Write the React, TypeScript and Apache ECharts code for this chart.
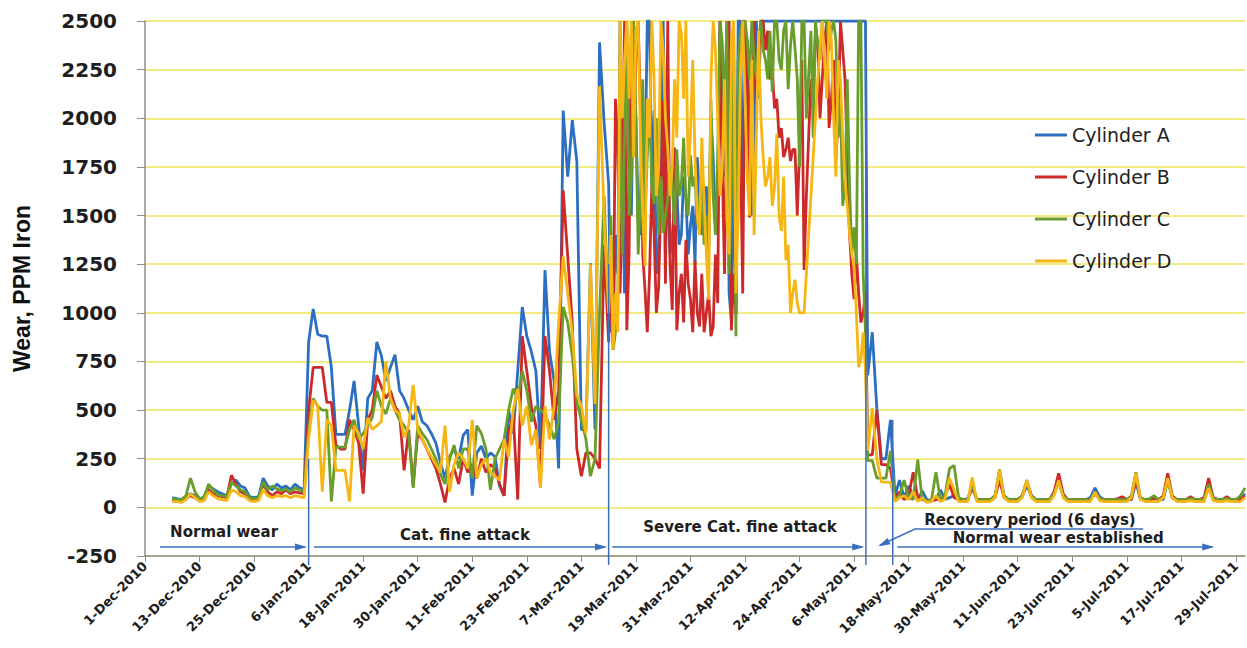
import React, { useEffect, useRef } from "react";
import * as echarts from "echarts";

// day 0 = 1-Dec-2010; first reading on day 6 (7-Dec-2010), one value per day
const START_DAY = 6;
// extra mid-day readings during the severe attack, from day 102.5
const EXTRA_START_DAY = 102.5;

const cylinderNames = ["Cylinder A", "Cylinder B", "Cylinder C", "Cylinder D"];
const cylinderColors = ["#2c6fc2", "#cc2a2a", "#6a9e2c", "#f6b714"];

const cylA = [
  50, 45, 40, 55, 70, 60, 40, 55, 110, 95, 80, 70, 60, 120, 140, 110, 100, 55, 50, 55,
  150, 110, 90, 120, 100, 110, 90, 120, 100, 90,
  850, 1020, 890, 880, 880, 720, 375, 375, 375, 500, 650, 420, 190, 560, 600, 850, 780, 650, 720, 785,
  600, 560, 500, 450, 520, 440, 420, 380, 330, 230, 150, 260, 300, 250, 370,
  400, 60, 280, 315, 250, 280, 260, 110, 60, 500, 380, 700, 1030, 880, 800, 700, 300, 1220, 800, 650,
  200, 2040, 1700, 1990, 1780, 400, 400, 1255, 400, 2390, 1980,
  1660, 1000, 1200, 1800, 1300, 1500, 2000, 1400, 1700, 2500, 2040, 1300, 2500, 1540, 1400, 1650, 1400, 1600, 1450, 1250,
  1600, 1500, 1300, 1800, 1650, 2100, 2500, 960, 990, 2500, 2100, 1900, 1600, 2100, 2500, 2500, 2500, 2500, 2500, 2500,
  2500, 2500, 2500, 2500, 2500, 2500, 2500, 2500, 2500, 2500, 2500, 2500, 2500, 2500, 2500, 2500, 2500,
  680, 900, 510, 250, 250, 450,
  60, 140, 50, 110, 60, 40, 85, 40, 35, 40, 90, 40, 50, 60, 40, 40, 45, 100, 40, 40,
  40, 40, 60, 150, 60, 40, 40, 40, 60, 110, 60, 40, 40, 40, 40, 70, 140, 60, 40, 40,
  40, 40, 40, 50, 100, 55, 40, 40, 40, 40, 45, 40, 40, 130, 40, 40, 40, 50, 40, 40,
  140, 50, 40, 40, 40, 45, 40, 40, 40, 110, 40, 40, 40, 45, 40, 40, 40, 70,
];
const cylAExtra = [
  900, 1400, 2500, 1100, 1700, 2300, 1500, 1900, 2500, 1650, 1200, 1800, 1650, 1300, 1550, 1350, 1700, 1300, 1550, 1800,
  1400, 1650, 2000, 1450, 2500, 1700, 1100, 1800, 2500, 1700, 2400, 1500, 2500, 2500,
  2500, 2500, 2500, 2500, 2500, 2500, 2500, 2500, 2500, 2500, 2500, 2500, 2500, 2500, 2500, 2500, 2500, 2500, 2500, 2500,
  2500, 2500, 2500,
];

const cylB = [
  40, 35, 35, 45, 60, 50, 35, 40, 90, 70, 60, 55, 50, 165, 120, 80, 70, 45, 40, 45,
  120, 80, 60, 80, 70, 90, 70, 80, 75, 70,
  500, 720, 720, 720, 540, 540, 320, 300, 300, 450, 400, 330, 70, 450, 500, 680, 620, 560, 600, 520,
  480, 190, 400, 110, 380, 350, 300, 250, 200, 120, 25, 150, 200, 120, 250,
  180, 220, 150, 250, 180, 220, 200, 120, 60, 380, 480, 40, 880, 700, 520, 420, 110, 880, 700, 450,
  600, 1630, 1290, 950, 300, 160, 280, 280, 250, 200, 1350,
  850, 810, 1860, 1560, 910, 2500, 2300, 2040, 1120, 1200, 1410, 1135, 2090, 2500, 1015, 910, 1200, 1375, 1070, 1270,
  930, 900, 1100, 930, 1050, 1750, 2090, 910, 990, 1840, 2500, 1490, 2500, 2300, 2500, 2450, 2260, 2100, 1950, 1840,
  1780, 1840, 1840, 1220, 1900, 2100, 2390, 2200, 2500, 2100, 1790, 2500, 2200, 1410, 1070, 1100, 1000,
  270, 270, 500, 220, 220, 200,
  50, 80, 40, 60, 180, 50, 40, 35, 35, 40, 40, 60, 120, 50, 40, 40, 40, 110, 40, 40,
  40, 40, 50, 140, 50, 40, 40, 40, 60, 130, 60, 40, 40, 40, 40, 80, 175, 70, 40, 40,
  40, 40, 40, 40, 70, 45, 40, 40, 40, 45, 55, 40, 40, 150, 45, 40, 40, 45, 40, 60,
  175, 60, 40, 40, 40, 55, 40, 40, 50, 150, 50, 40, 40, 55, 40, 40, 40, 60,
];
const cylBExtra = [
  1200, 2100, 1100, 2500, 1300, 1900, 2500, 1300, 900, 1650, 1000, 1600, 1150, 1250, 1850, 1100, 950, 1150, 900, 1000,
  1200, 1000, 880, 1300, 2500, 1200, 2500, 1200, 2100, 1100, 2200, 1800, 2100, 2500, 2350, 2200, 2050, 1900, 1800, 1900,
  1840, 1500, 2300, 1600, 2200, 2450, 2000, 2400, 1950, 2300, 2000, 2350, 1800, 1200, 1300, 950, 1100,
];

const cylC = [
  45, 40, 40, 60, 150, 80, 45, 50, 120, 90, 65, 60, 55, 130, 110, 90, 80, 50, 45, 50,
  130, 90, 110, 95, 85, 95, 80, 100, 90, 80,
  400, 560, 520, 500, 500, 30, 310, 310, 310, 400, 450, 350, 380, 420, 460, 600, 520, 480, 560, 500,
  450, 420, 380, 100, 420, 380, 350, 300, 250, 170, 120, 250, 320, 200, 300,
  300, 150, 420, 380, 300, 90, 250, 300, 350, 500, 610, 560, 700, 600, 440, 520, 500, 480, 420, 350,
  440, 1030, 950, 780, 540, 450, 350, 160, 250, 1000, 1600,
  1000, 810, 1000, 1300, 2500, 1700, 2000, 1600, 1500, 2100, 1560, 1400, 1410, 1580, 1660, 1840, 1660, 1580, 1810, 1700,
  1580, 1350, 1320, 1600, 1800, 2390, 2500, 1600, 880, 2450, 2500, 2200, 2300, 2400, 2350, 2200, 2135, 2500, 2250, 2500,
  2370, 2360, 1750, 2500, 2220, 1900, 2390, 2500, 2500, 2450, 2400, 2100, 1650, 1650, 1440, 2500, 1200,
  240, 240, 150, 150, 150, 290,
  40, 60, 140, 50, 40, 245, 40, 35, 35, 180, 40, 60, 200, 215, 50, 40, 40, 120, 40, 40,
  40, 40, 60, 195, 60, 40, 40, 40, 60, 140, 60, 40, 40, 40, 40, 70, 130, 60, 40, 40,
  40, 40, 40, 40, 75, 45, 40, 40, 40, 40, 40, 40, 60, 180, 50, 40, 45, 60, 40, 50,
  140, 50, 40, 40, 40, 45, 40, 40, 40, 120, 45, 40, 40, 45, 40, 40, 60, 100,
];
const cylCExtra = [
  1500, 900, 2200, 1900, 1500, 2500, 1300, 2200, 1800, 1650, 2000, 1700, 1500, 1750, 1450, 1600, 1900, 1500, 1650, 1450,
  1700, 1500, 2100, 1400, 2500, 2000, 1200, 2500, 2300, 2500, 2400, 2500, 2200, 2500, 2300, 2450, 2500, 2300, 2450, 2150,
  2500, 2200, 2500, 2000, 2450, 2500, 2300, 2500, 2350, 2500, 1900, 1550, 2200, 1300, 1250, 2500, 900,
];

const cylD = [
  30, 30, 25, 40, 70, 50, 30, 35, 80, 60, 45, 40, 35, 90, 80, 60, 55, 35, 30, 35,
  90, 60, 50, 60, 55, 60, 50, 60, 55, 50,
  350, 550, 520, 80, 450, 420, 190, 190, 190, 30, 420, 380, 300, 460, 400, 420, 440, 750, 560, 500,
  480, 360, 420, 630, 400, 350, 300, 260, 220, 180, 420, 80, 220, 280, 250,
  200, 450, 150, 220, 250, 180, 160, 140, 350, 260, 500, 610, 420, 520, 320, 400, 100, 520, 350, 520,
  950, 1290, 1100, 900, 580, 520, 380, 1250, 530, 2165, 1500,
  1000, 810, 900, 2000, 2500, 2500, 2450, 1900, 1238, 1900, 2200, 1750, 2350, 1850, 1750, 1900, 2440, 2500, 1920, 1800,
  1400, 1580, 1067, 2500, 2000, 1750, 1490, 2400, 1100, 2200, 2100, 1500, 1400, 2450, 1800, 1700, 1550, 1920, 1420, 1270,
  1000, 1170, 1000, 1000, 1400, 1800, 2200, 2500, 2100, 2400, 1700, 2200, 1680, 1410, 1238, 720, 900,
  290, 510, 250, 130, 130, 130,
  30, 50, 60, 40, 80, 30, 50, 25, 30, 60, 30, 40, 150, 90, 30, 30, 30, 155, 30, 30,
  30, 30, 50, 190, 50, 30, 30, 30, 50, 140, 50, 30, 30, 30, 30, 60, 140, 50, 30, 30,
  30, 30, 30, 30, 80, 35, 30, 30, 30, 30, 30, 30, 50, 175, 40, 30, 30, 30, 30, 50,
  150, 50, 30, 30, 30, 35, 30, 30, 30, 100, 35, 30, 30, 35, 30, 30, 30, 50,
];
const cylDExtra = [
  1400, 1100, 2500, 2300, 2100, 1800, 2500, 1500, 2100, 2500, 1600, 2500, 2000, 1600, 2200, 2500, 2100, 1700, 2300, 1500,
  1900, 1300, 2200, 2350, 1600, 2200, 1300, 2500, 1500, 2500, 1700, 2300, 1900, 2000, 1650, 1800, 1650, 1500, 1700, 1350,
  1100, 1050, 1000, 1200, 1600, 2000, 2350, 2300, 2500, 2000, 2300, 1900, 1550, 1300, 1000, 760, 700,
];

const cylinderValues = [cylA, cylB, cylC, cylD];
const cylinderExtraValues = [cylAExtra, cylBExtra, cylCExtra, cylDExtra];

const Y_MIN = -250;
const Y_MAX = 2500;
const Y_STEP = 250;
const X_MIN_DAY = 0;
const X_MAX_DAY = 242;
const X_STEP_DAYS = 12;
const MONTHS = ["Jan", "Feb", "Mar", "Apr", "May", "Jun", "Jul", "Aug", "Sep", "Oct", "Nov", "Dec"];

// phase boundaries (day, value where the marker line starts)
const boundaryDays = [36, 102, 158.6, 164.5];
const boundaryTops = [250, 1250, 2500, 450];

// phase labels: text, day, value
const phaseTexts = ["Normal wear", "Cat. fine attack", "Severe Cat. fine attack", "Recovery period (6 days)", "Normal wear established"];
const phaseTextDays = [17.4, 70.4, 130.9, 194.7, 200.9];
const phaseTextValues = [-127, -142, -101, -65, -157];

// phase arrows as polylines in [day, value]; arrowhead at the last point
const phaseArrows: number[][][] = [
  [[3.3, -204], [35.2, -204]],
  [[37.2, -204], [101.2, -204]],
  [[102.8, -204], [157.8, -204]],
  [[165.5, -204], [234.8, -204]],
  [[219.6, -111], [169.4, -111], [161.7, -195]],
];

function dayLabel(d: number): string {
  const dt = new Date(Date.UTC(2010, 11, 1) + d * 86400000);
  return `${dt.getUTCDate()}-${MONTHS[dt.getUTCMonth()]}-${dt.getUTCFullYear()}`;
}

const FONT = "DejaVu Sans";
const ANNOT_BLUE = "#3a6fbf";

export default function App() {
  const ref = useRef<HTMLDivElement>(null);

  useEffect(() => {
    if (!ref.current) return;
    const chart = echarts.init(ref.current, undefined, { renderer: "svg" });

    const series = cylinderNames.map((name, k) => {
      const pts: number[][] = cylinderValues[k].map((v, i) => [START_DAY + i, v]);
      cylinderExtraValues[k].forEach((v, i) => pts.push([EXTRA_START_DAY + i, v]));
      pts.sort((a, b) => a[0] - b[0]);
      return {
        name,
        type: "line",
        data: pts,
        symbol: "none",
        showSymbol: false,
        clip: true,
        lineStyle: { width: 2.8, color: cylinderColors[k] },
        itemStyle: { color: cylinderColors[k] },
        z: 2 + k,
      };
    });

    chart.setOption({
      animation: false,
      backgroundColor: "#ffffff",
      grid: { left: 145, right: 2, top: 21, bottom: 92, containLabel: false },
      legend: {
        orient: "vertical",
        left: 1030,
        top: 120,
        icon: "rect",
        itemWidth: 32,
        itemHeight: 3,
        itemGap: 22,
        data: cylinderNames,
        textStyle: { fontFamily: FONT, fontSize: 19, color: "#222", lineHeight: 20 },
      },
      xAxis: {
        type: "value",
        min: X_MIN_DAY,
        max: X_MAX_DAY,
        interval: X_STEP_DAYS,
        axisLine: { onZero: false, lineStyle: { color: "#8c8c8c", width: 1.5 } },
        axisTick: { show: true, length: 6, lineStyle: { color: "#8c8c8c" } },
        axisLabel: {
          rotate: 45,
          margin: 8,
          showMaxLabel: false,
          formatter: (v: number) => dayLabel(v),
          fontFamily: FONT,
          fontWeight: "bold",
          fontSize: 13,
          color: "#1e1e1e",
        },
        splitLine: { show: false },
      },
      yAxis: {
        type: "value",
        min: Y_MIN,
        max: Y_MAX,
        interval: Y_STEP,
        name: "Wear, PPM Iron",
        nameLocation: "middle",
        nameRotate: 90,
        nameGap: 112,
        nameTextStyle: { fontFamily: "Liberation Sans", fontWeight: "bold", fontSize: 23, color: "#111" },
        axisLine: { show: true, lineStyle: { color: "#8c8c8c", width: 1.5 } },
        axisTick: { show: true, length: 8, lineStyle: { color: "#8c8c8c" } },
        axisLabel: {
          margin: 28,
          formatter: (v: number) => String(v),
          fontFamily: FONT,
          fontWeight: "bold",
          fontSize: 20,
          color: "#1e1e1e",
        },
        splitLine: { show: true, lineStyle: { color: "#efe35a", width: 1.5 } },
      },
      series,
    });

    const px = (d: number, v: number) => chart.convertToPixel({ gridIndex: 0 }, [d, v]) as number[];
    const elements: any[] = [];

    boundaryDays.forEach((d, i) => {
      const top = px(d, boundaryTops[i]);
      const bot = px(d, Y_MIN);
      elements.push({
        type: "line",
        z: 10,
        shape: { x1: top[0], y1: top[1], x2: bot[0], y2: bot[1] + 9 },
        style: { stroke: ANNOT_BLUE, lineWidth: 1.5 },
      });
    });

    phaseArrows.forEach((pts) => {
      const p = pts.map(([d, v]) => px(d, v));
      elements.push({
        type: "polyline",
        z: 10,
        shape: { points: p },
        style: { stroke: ANNOT_BLUE, lineWidth: 1.5, fill: null },
      });
      const a = p[p.length - 2];
      const b = p[p.length - 1];
      const len = Math.hypot(b[0] - a[0], b[1] - a[1]) || 1;
      const ux = (b[0] - a[0]) / len;
      const uy = (b[1] - a[1]) / len;
      const L = 10;
      const W = 3.5;
      elements.push({
        type: "polygon",
        z: 10,
        shape: {
          points: [
            [b[0] + ux * 2, b[1] + uy * 2],
            [b[0] - ux * L - uy * W, b[1] - uy * L + ux * W],
            [b[0] - ux * L + uy * W, b[1] - uy * L - ux * W],
          ],
        },
        style: { fill: ANNOT_BLUE },
      });
    });

    phaseTexts.forEach((t, i) => {
      const p = px(phaseTextDays[i], phaseTextValues[i]);
      elements.push({
        type: "text",
        z: 11,
        x: p[0],
        y: p[1],
        style: {
          text: t,
          fill: "#1e1e1e",
          font: `bold 15px "${FONT}"`,
          textAlign: "center",
          textVerticalAlign: "middle",
        },
      });
    });

    chart.setOption({ graphic: elements });

    return () => chart.dispose();
  }, []);

  return (
    <div
      ref={ref}
      style={{ position: "fixed", left: 0, top: 0, width: 1247, height: 648, background: "#fff" }}
    />
  );
}
